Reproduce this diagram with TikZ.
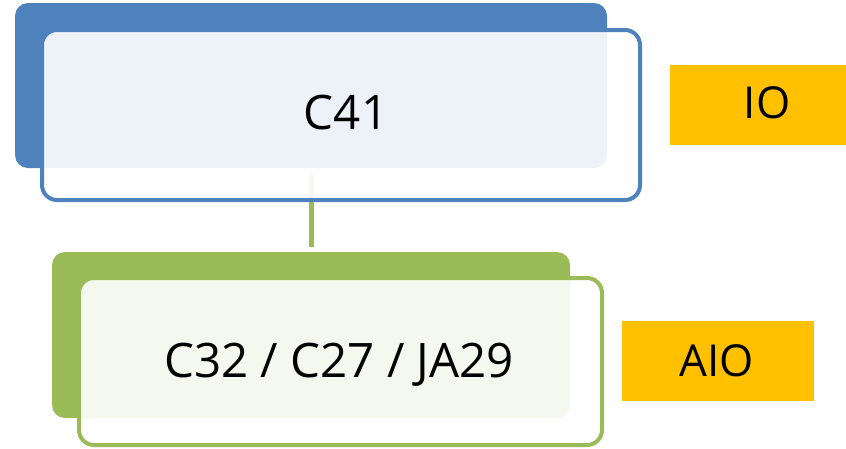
\documentclass[tikz,border=0pt]{standalone}
\usepackage{fontspec}
\setmainfont{Open Sans}
\usepackage{tikz}
\usetikzlibrary{positioning, calc}
\definecolor{tierblue}{RGB}{79, 129, 189}
\definecolor{tiergreen}{RGB}{155, 187, 89}
\definecolor{tagorange}{RGB}{255, 192, 0}

\begin{document}
\begin{tikzpicture}[x=1pt, y=-1pt,
        backbox/.style={rectangle, rounded corners=13pt, draw=none, inner sep=0pt},
        frontbox/.style={rectangle, rounded corners=15pt, line width=4pt, fill=white, fill opacity=0.9, inner sep=0pt},
        tagbox/.style={rectangle, fill=tagorange, inner sep=0pt, minimum height=80pt},
        label/.style={anchor=base, font=\fontsize{47.5}{57}\selectfont},
        taglabel/.style={anchor=base, font=\fontsize{44}{53}\selectfont}]
        \useasboundingbox (0,0) rectangle (846,448);

        % Upper tier
        \node[backbox, fill=tierblue, minimum width=592pt, minimum height=165pt] (topback) at (311,85.5) {};
        \coordinate (linktop) at (311,175);
        \coordinate (linkbot) at (311,247);
        \draw[tiergreen, line width=5pt] (linktop) -- (linkbot);
        \node[frontbox, draw=tierblue, minimum width=598pt, minimum height=170pt] (topfront) at (341,115) {};
        \node[label] (c41) at (346,129) {C41};

        % Lower tier
        \node[backbox, fill=tiergreen, minimum width=518pt, minimum height=166pt] (botback) at (311,335) {};
        \node[frontbox, draw=tiergreen, minimum width=523pt, minimum height=167pt] (botfront) at (340.5,361.5) {};
        \node[label] (c32) at (339,377) {C32 / C27 / JA29};

        % Tags
        \foreach \name/\cx/\cy/\w/\tx/\ty/\txt in {io/758/105/176/767/118/IO, aio/718/361/192/717/376/AIO} {
        \node[tagbox, minimum width=\w pt] (\name box) at (\cx,\cy) {};
        \node[taglabel] (\name) at (\tx,\ty) {\txt};
        }
    \end{tikzpicture}
\end{document}
